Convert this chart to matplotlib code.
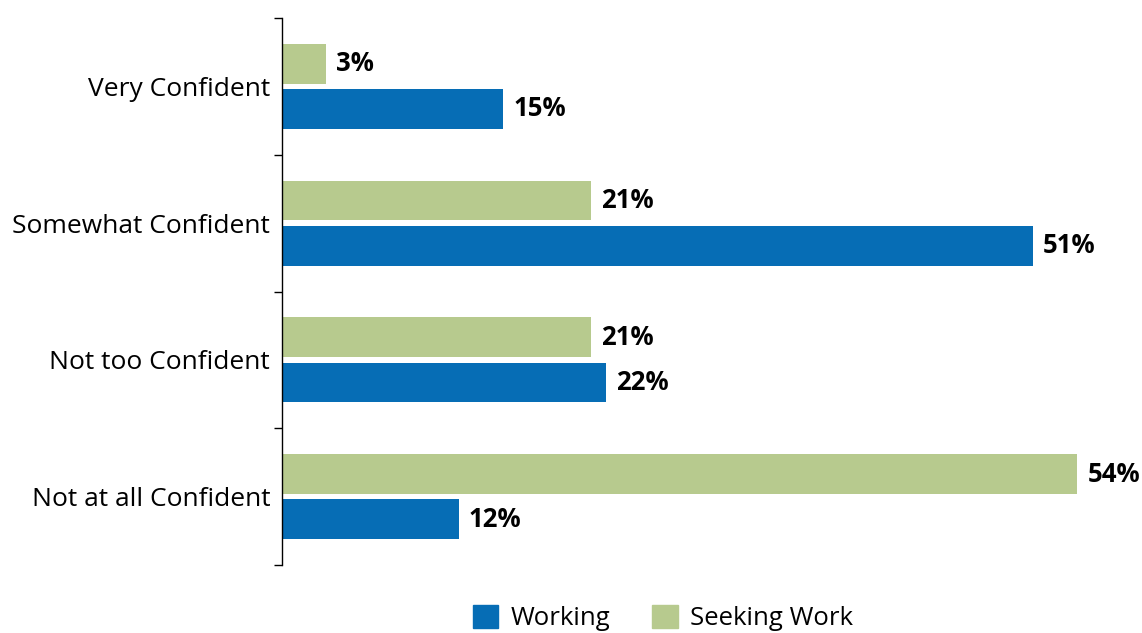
import matplotlib.pyplot as plt
from matplotlib.patches import Patch

categories = ['Very Confident', 'Somewhat Confident', 'Not too Confident', 'Not at all Confident']
seeking = [3, 21, 21, 54]
working = [15, 51, 22, 12]

blue = '#066db5'
green = '#b7ca8e'

plt.rcParams['font.family'] = ['Open Sans', 'DejaVu Sans']

fig = plt.figure(figsize=(11.42, 6.33), dpi=100)
ax = fig.add_axes([282 / 1142, 1 - 565 / 633, (1136 - 282) / 1142, (565 - 18) / 633])

pos = [i + 0.5 for i in range(len(categories))]
h = 0.29
off = 0.165
ax.barh([p - off for p in pos], seeking, height=h, color=green)
ax.barh([p + off for p in pos], working, height=h, color=blue)

# value labels
for p, v in zip(pos, seeking):
    ax.text(v + 0.7, p - off, f'{v}%', va='center', ha='left', fontsize=18.5, fontweight='bold')
for p, v in zip(pos, working):
    ax.text(v + 0.7, p + off, f'{v}%', va='center', ha='left', fontsize=18.5, fontweight='bold')

ax.set_xlim(0, 58)
ax.set_ylim(4, 0)
ax.set_yticks([0, 1, 2, 3, 4])
ax.set_yticklabels([])
ax.set_yticks(pos, minor=True)
ax.set_yticklabels(categories, minor=True, fontsize=19)
ax.tick_params(axis='y', which='minor', length=0, pad=8.5)
ax.tick_params(axis='y', which='major', length=6, width=1)
ax.set_xticks([])
for s in ['top', 'right', 'bottom']:
    ax.spines[s].set_visible(False)
ax.spines['left'].set_linewidth(1)

handles = [Patch(color=blue, label='Working'), Patch(color=green, label='Seeking Work')]
fig.legend(handles=handles, loc='center', bbox_to_anchor=(663 / 1142, 1 - 618 / 633), ncol=2,
           frameon=False, fontsize=18.5, handlelength=1.0, handleheight=1.0, columnspacing=1.6,
           handletextpad=0.5)

fig.savefig('out.png', dpi=100)
